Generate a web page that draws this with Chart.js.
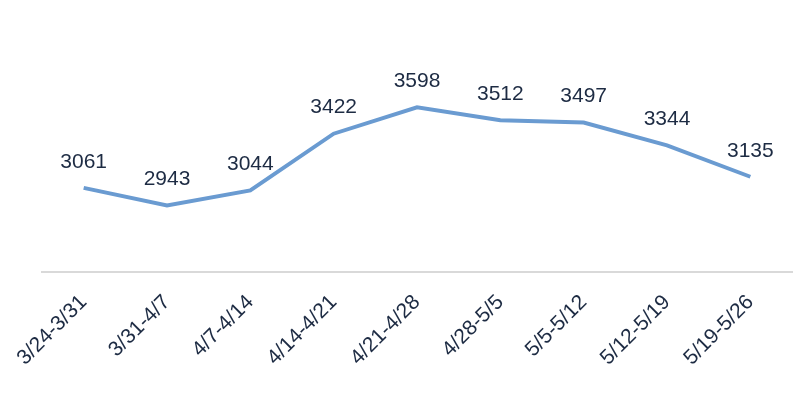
<!DOCTYPE html>
<html>
<head>
<meta charset="utf-8">
<script src="https://cdn.jsdelivr.net/npm/chart.js@4"></script>
<style>
  html, body { margin: 0; padding: 0; background: #fff; }
</style>
</head>
<body>
<canvas id="chart" width="800" height="394"></canvas>
<script>
const weeks = ['3/24-3/31', '3/31-4/7', '4/7-4/14', '4/14-4/21', '4/21-4/28', '4/28-5/5', '5/5-5/12', '5/12-5/19', '5/19-5/26'];
const counts = [3061, 2943, 3044, 3422, 3598, 3512, 3497, 3344, 3135];

// value labels above each point
const pointLabels = {
    id: 'pointLabels',
    afterDatasetsDraw(chart) {
        const ctx = chart.ctx;
        const meta = chart.getDatasetMeta(0);
        ctx.save();
        ctx.font = '21px "Liberation Sans", Arial, sans-serif';
        ctx.fillStyle = '#1d2b43';
        ctx.textAlign = 'center';
        ctx.textBaseline = 'middle';
        meta.data.forEach((pt, i) => {
            ctx.fillText(counts[i], pt.x, pt.y - 26);
        });
        ctx.restore();
    }
};

new Chart(document.getElementById('chart'), {
    type: 'line',
    data: {
        labels: weeks,
        datasets: [{
            data: counts,
            borderColor: '#6a9bd1',
            borderWidth: 4,
            pointRadius: 0,
            tension: 0,
            fill: false
        }]
    },
    options: {
        responsive: false,
        animation: false,
        layout: { padding: { left: 42, right: 8, top: 47, bottom: 0 } },
        plugins: {
            legend: { display: false },
            tooltip: { enabled: false }
        },
        scales: {
            x: {
                offset: true,
                grid: { display: false },
                border: { display: true, color: '#d9d9d9', width: 2 },
                ticks: {
                    color: '#1d2b43',
                    font: { family: '"Liberation Sans", Arial, sans-serif', size: 21 },
                    minRotation: 45,
                    maxRotation: 45,
                    padding: 10
                },
                afterFit(scale) { scale.height = 122; }
            },
            y: {
                display: false,
                min: 2500,
                max: 4000
            }
        }
    },
    plugins: [pointLabels]
});
</script>
</body>
</html>
